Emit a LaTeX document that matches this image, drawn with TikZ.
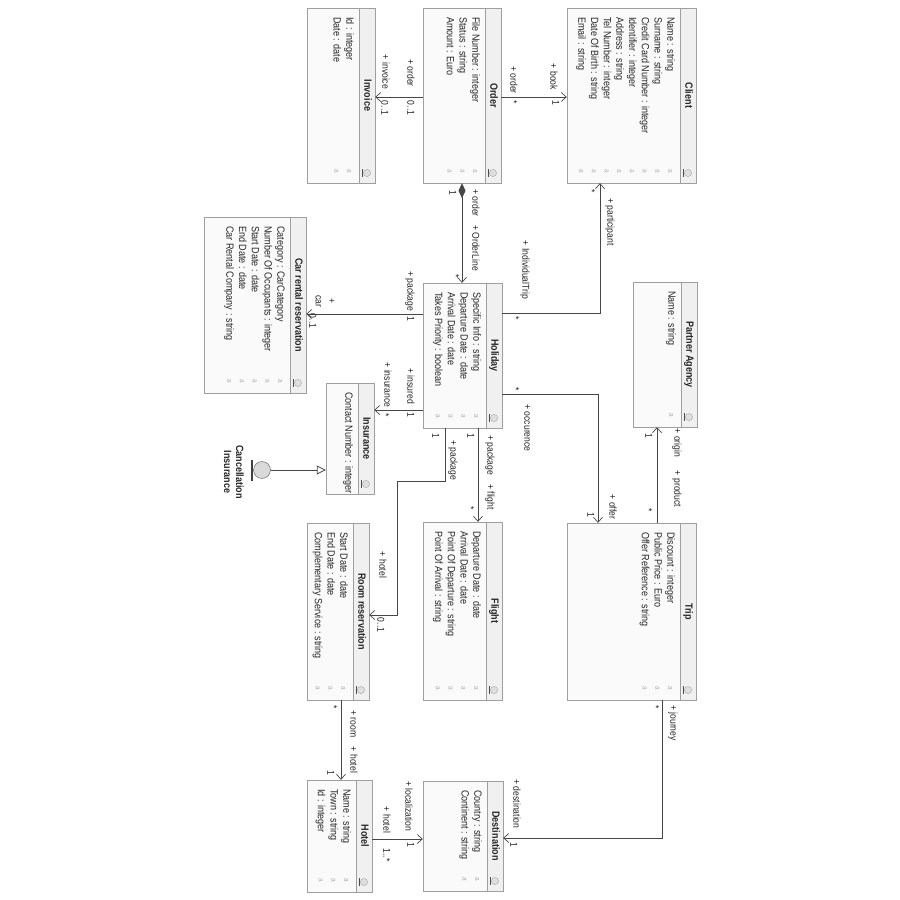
\documentclass[tikz,border=0pt]{standalone}
\usepackage{fontspec}
\setmainfont{Liberation Sans}[FakeStretch=0.86]
\usetikzlibrary{arrows.meta}

\tikzset{
  classbox/.style={draw=gray!75, fill=gray!4, inner sep=0pt},
  hdrbox/.style={draw=gray!75, fill=gray!12},
  plain/.style={rotate=-90, inner sep=0pt, text=black!85},
  txt/.style={plain, font=\fontsize{10.5}{12.5}\selectfont,
              text height=7.5pt, text depth=2pt},
  ttl/.style={txt, font=\fontsize{10.5}{12.5}\selectfont\bfseries},
  ttlmulti/.style={plain, font=\fontsize{10.5}{12}\selectfont\bfseries, align=center},
  lbl/.style={txt, font=\fontsize{10}{11}\selectfont},
  lblmulti/.style={plain, font=\fontsize{10}{13}\selectfont, align=center},
  attricon/.style={rotate=-90, font=\fontsize{7.5}{7.5}\selectfont, text=gray!60, inner sep=0pt},
  conn/.style={draw=gray!55!black, line width=0.8pt},
  assoc/.style={conn, -{Straight Barb[length=5pt,width=9pt,line width=0.7pt]}},
  compo/.style={conn, {Diamond[length=15pt,width=7pt]}-{Straight Barb[length=5pt,width=9pt,line width=0.7pt]}},
  gen/.style={conn, -{Triangle[open,length=9pt,width=9pt,fill=white]}},
}

% \umlclass{name}{left}{top}{right}{bottom}{title}{attribute list}
\newcommand\umlclass[7]{%
  \node[classbox, minimum width={(#4-#2)*1pt}, minimum height={(#5-#3)*1pt}]
    (#1) at ({(#2+#4)/2},{(#3+#5)/2}) {};
  \draw[hdrbox] ({#4-16},#3) rectangle (#4,#5);
  \node[ttl] (#1-title) at ({#4-8},{(#3+#5)/2}) {#6};
  \foreach \a [count=\i] in {#7} {
    \node[txt, anchor=west] (#1-a\i) at ({#4-26-(\i-1)*12.7},{#3+9}) {\a};
    \node[attricon] (#1-i\i) at ({#4-26-(\i-1)*12.7},{#5-12}) {a};
  }
  \draw[gray!70, fill=gray!25] ({#4-8},{#5-10}) circle (3.6pt);
  \draw[gray!60!black, line width=0.8pt] ({#4-12.5},{#5-14}) -- ({#4-12.5},{#5-6});
}

\begin{document}
\begin{tikzpicture}[x=1pt, y=-1pt]
\useasboundingbox (0,0) rectangle (900,900);
\fill[white] (0,0) rectangle (900,900);

% classes
\umlclass{invoice}{307}{8}{375}{183}{Invoice}{Id : integer, Date : date}
\umlclass{order}{423}{8}{501}{183}{Order}{File Number : integer, Status : string, Amount : Euro}
\umlclass{client}{567}{8}{696}{183}{Client}{Name : string, Surname : string,
  Credit Card Number : integer, Identifier : integer, Address : string,
  Tel Number : integer, Date Of Birth : string, Email : string}
\umlclass{carrental}{204}{217}{306}{393}{Car rental reservation}{Category : CarCategory,
  Number Of Occupants : integer, Start Date : date, End Date : date,
  Car Rental Company : string}
\umlclass{holiday}{423}{283}{502}{428}{Holiday}{Specific Info : string,
  Departure Date : date, Arrival Date : date, Takes Priority : boolean}
\umlclass{partner}{633}{282}{697}{427}{Partner Agency}{Name : string}
\umlclass{insurance}{326}{383}{374}{494}{Insurance}{Contact Number : integer}
\umlclass{room}{307}{523}{369}{700}{Room reservation}{Start Date : date,
  End Date : date, Complementary Service : string}
\umlclass{flight}{423}{522}{502}{700}{Flight}{Departure Date : date,
  Arrival Date : date, Point Of Departure : string, Point Of Arrival : string}
\umlclass{trip}{567}{523}{696}{700}{Trip}{Discount : integer, Public Price : Euro,
  Offer Reference : string}
\umlclass{hotel}{307}{780}{372}{892}{Hotel}{Name : string, Town : string, Id : integer}
\umlclass{destination}{423}{781}{503}{891}{Destination}{Country : string, Continent : string}

% entity standing for the cancellation insurance
\node[circle, draw=gray!70!black, fill=gray!30, minimum size=17pt, inner sep=0pt]
  (cancel) at (262,470) {};
\draw[gray!50!black, line width=1.6pt] (252,460) -- (252,481);
\node[ttlmulti] (cancel-name) at (234,472) {Cancellation\\Insurance};
\draw[gen] (cancel.east) -- (insurance.west |- cancel.east);

% associations
\draw[assoc] (order.west |- 0,97) -- (invoice.east |- 0,97);
\draw[assoc] (order.east |- 0,97) -- (client.west |- 0,97);
\draw[compo] (order.south -| 462,0) -- (holiday.north -| 462,0);
\draw[assoc] (holiday.east |- 0,313) -| (client.south -| 600,0);
\draw[assoc] (holiday.west |- 0,314) -- (carrental.east |- 0,314);
\draw[assoc] (holiday.west |- 0,410) -- (insurance.east |- 0,410);
\draw[assoc] (holiday.south -| 445,0) -- (445,481) -- (397,481) -- (397,615)
  -- (room.east |- 0,615);
\draw[assoc] (holiday.south -| 478,0) -- (flight.north -| 478,0);
\draw[assoc] (holiday.east |- 0,394) -| (trip.north -| 598,0);
\draw[assoc] (trip.north -| 657,0) -- (partner.south -| 657,0);
\draw[assoc] (trip.south -| 662,0) |- (destination.east |- 0,838);
\draw[assoc] (room.south -| 341,0) -- (hotel.north -| 341,0);
\draw[assoc] (hotel.east |- 0,839) -- (destination.west |- 0,839);

% role names and multiplicities
\node[lbl] (l01) at (385,72) {+ invoice};
\node[lbl] (l02) at (384,108) {0..1};
\node[lbl] (l03) at (410,73) {+ order};
\node[lbl] (l04) at (410,108) {0..1};
\node[lbl] (l05) at (513,80) {+ order};
\node[lbl] (l06) at (513,102) {*};
\node[lbl] (l07) at (553,77) {+ book};
\node[lbl] (l08) at (555,103) {1};
\node[lbl] (l09) at (452,193) {1};
\node[lbl] (l10) at (475,203) {+ order};
\node[lbl] (l11) at (475,248) {+ OrderLine};
\node[lbl] (l12) at (455,276) {*};
\node[lbl] (l13) at (525,270) {+ IndividualTrip};
\node[lbl] (l14) at (515,318) {*};
\node[lbl] (l15) at (610,222) {+ participant};
\node[lbl] (l16) at (591,191) {*};
\node[lbl] (l17) at (410,291) {+ package};
\node[lbl] (l18) at (410,319) {1};
\node[lblmulti] (l19) at (325,301) {+\\car};
\node[lbl] (l20) at (312,321) {0..1};
\node[lbl] (l21) at (410,386) {+ insured};
\node[lbl] (l22) at (410,415) {1};
\node[lbl] (l23) at (387,385) {+ insurance};
\node[lbl] (l24) at (385,415) {*};
\node[lbl] (l25) at (435,436) {1};
\node[lbl] (l26) at (453,460) {+ package};
\node[lbl] (l27) at (382,565) {+ hotel};
\node[lbl] (l28) at (380,625) {0..1};
\node[lbl] (l29) at (470,436) {1};
\node[lbl] (l30) at (490,455) {+ package};
\node[lbl] (l31) at (490,497) {+ flight};
\node[lbl] (l32) at (470,508) {*};
\node[lbl] (l33) at (515,389) {*};
\node[lbl] (l34) at (527,428) {+ occurence};
\node[lbl] (l35) at (612,507) {+ offer};
\node[lbl] (l36) at (590,515) {1};
\node[lbl] (l37) at (648,436) {1};
\node[lbl] (l38) at (677,443) {+ origin};
\node[lbl] (l39) at (677,489) {+ product};
\node[lbl] (l40) at (648,510) {*};
\node[lbl] (l41) at (655,707) {*};
\node[lbl] (l42) at (673,723) {+ journey};
\node[lbl] (l43) at (516,804) {+ destination};
\node[lbl] (l44) at (513,845) {1};
\node[lbl] (l45) at (333,707) {*};
\node[lbl] (l46) at (353,724) {+ room};
\node[lbl] (l47) at (353,760) {+ hotel};
\node[lbl] (l48) at (330,773) {1};
\node[lbl] (l49) at (386,820) {+ hotel};
\node[lbl] (l50) at (386,855) {1..*};
\node[lbl] (l51) at (408,806) {+ localization};
\node[lbl] (l52) at (410,845) {1};
\end{tikzpicture}
\end{document}
